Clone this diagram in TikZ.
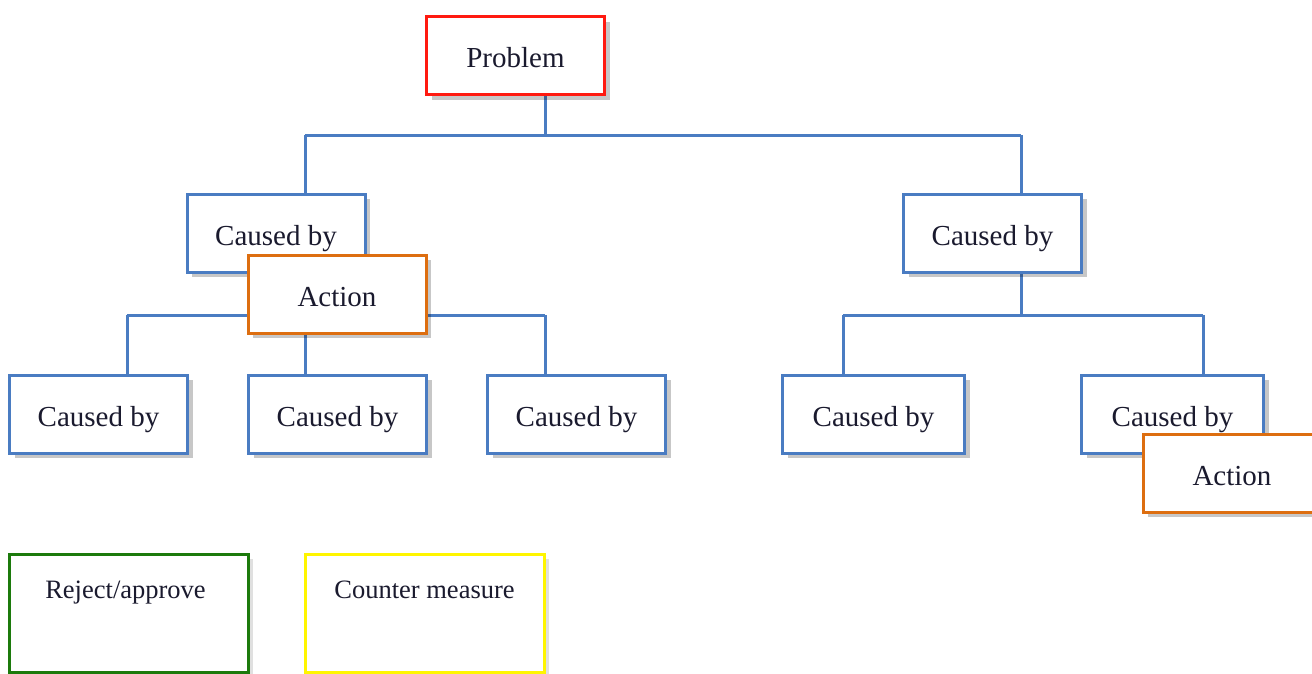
\documentclass[tikz,border=0pt]{standalone}
\usepackage{fontspec}
\setmainfont{Liberation Serif}
\usetikzlibrary{shadows,calc}
\definecolor{boxblue}{HTML}{4A7CC2}
\definecolor{boxred}{HTML}{FF1A10}
\definecolor{boxorange}{HTML}{DD6E10}
\definecolor{boxgreen}{HTML}{1C7A0C}
\definecolor{boxyellow}{HTML}{FFF500}
\definecolor{txt}{HTML}{1A1A2E}
\tikzset{
  x=1pt, y=-1pt,
  card/.style={rectangle, draw, line width=3pt, fill=white, inner sep=0pt,
    minimum width=178pt, minimum height=78pt, text=txt,
    text height=31pt, text depth=6.5pt,
    font=\fontsize{29}{32}\selectfont,
    drop shadow={shadow xshift=5pt, shadow yshift=-5pt, opacity=0.22, fill=black}},
  cause/.style={card, draw=boxblue},
  act/.style={card, draw=boxorange},
  conn/.style={draw=boxblue, line width=3pt},
  legend/.style={rectangle, draw, line width=3pt, fill=white, inner sep=0pt,
    minimum width=239pt, minimum height=118pt,
    drop shadow={shadow xshift=5pt, shadow yshift=-5pt, opacity=0.12, fill=black}},
  legtext/.style={text=txt, font=\fontsize{26.5}{29}\selectfont, inner sep=0pt, anchor=base}
}
\begin{document}
\begin{tikzpicture}
\clip (0,0) rectangle (1312,673);
\fill[white] (0,0) rectangle (1312,673);

% connector junctions
\coordinate (j0) at (545,135);
\coordinate (jl) at (305,315);
\coordinate (jr) at (1021,315);

% connectors
\draw[conn] (545,96) -- (j0);
\draw[conn] (305,135) -- (1021,135);
\draw[conn] (305,135) -- (305,193);
\draw[conn] (1021,135) -- (1021,193);
\draw[conn] (305,273) -- (305,375);
\draw[conn] (127,315) -- (545,315);
\draw[conn] (127,315) -- (127,375);
\draw[conn] (545,315) -- (545,375);
\draw[conn] (1021,273) -- (jr);
\draw[conn] (843,315) -- (1203,315);
\draw[conn] (843,315) -- (843,375);
\draw[conn] (1203,315) -- (1203,375);

% boxes
\node[card, draw=boxred] (prob) at (515.5,55.5) {Problem};
\node[cause] (c1) at (276,233) {Caused by};
\node[cause] (c2) at (992.5,233) {Caused by};
\node[cause] (b1) at (98.5,414) {Caused by};
\node[cause] (b2) at (337.5,414) {Caused by};
\node[cause] (b3) at (576.5,414) {Caused by};
\node[cause, minimum width=182pt] (b4) at (873.5,414) {Caused by};
\node[cause, minimum width=182pt] (b5) at (1172.5,414) {Caused by};
\node[act] (a1) at (337,294) {Action};
\node[act] (a2) at (1232,473) {Action};

% legend
\node[legend, draw=boxgreen] (rj) at (128.5,613) {};
\node[legtext] (rjt) at ($(rj.north)+(-3,46)$) {Reject/approve};
\node[legend, draw=boxyellow] (cm) at (424.5,613) {};
\node[legtext] (cmt) at ($(cm.north)+(0,46)$) {Counter measure};
\end{tikzpicture}
\end{document}
